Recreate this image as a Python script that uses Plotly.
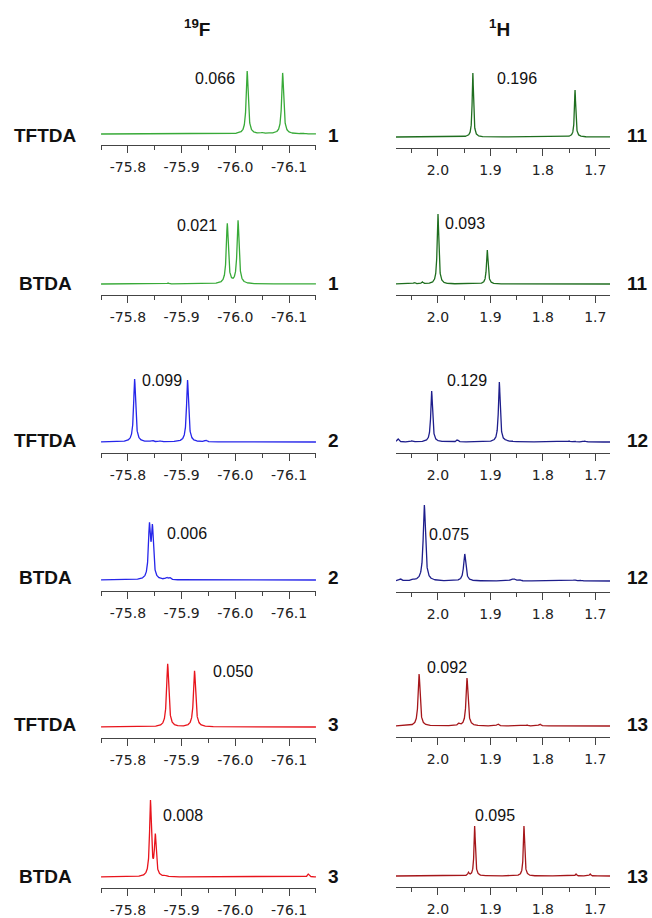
import numpy as np
import plotly.graph_objects as go

W, H = 652, 918

# ---------------- data ----------------
row_labels = ["TFTDA", "BTDA", "TFTDA", "BTDA", "TFTDA", "BTDA"]
compound_F = ["1", "1", "2", "2", "3", "3"]
compound_H = ["11", "11", "12", "12", "13", "13"]
ratio_F = ["0.066", "0.021", "0.099", "0.006", "0.050", "0.008"]
ratio_H = ["0.196", "0.093", "0.129", "0.075", "0.092", "0.095"]

F_ticks = [-75.8, -75.9, -76.0, -76.1]
F_ticktext = ["-75.8", "-75.9", "-76.0", "-76.1"]
F_minor = [-75.75, -75.85, -75.95, -76.05, -76.15]
H_ticks = [2.0, 1.9, 1.8, 1.7]
H_ticktext = ["2.0", "1.9", "1.8", "1.7"]
H_minor = [2.05, 1.95, 1.85, 1.75]

# 19F peaks (chemical shift, ppm) and heights (a.u.)
F_shift = [
    [-76.022, -76.088, -76.050, -76.060, -76.125],
    [-75.985, -76.005, -75.875],
    [-75.8125, -75.911, -75.845, -75.860, -75.945],
    [-75.840, -75.8456, -75.872, -75.878],
    [-75.874, -75.924],
    [-75.842, -75.851, -75.870, -76.136],
]
F_height = [
    [63, 61, 1.0, 1.0, 1.0],
    [60, 63, 1.0],
    [63, 62, 1.5, 1.0, 1.5],
    [51, 49, 2.0, 2.0],
    [63, 56],
    [75, 40, 1.0, 3.0],
]
F_hwhm = [0.0022, 0.0022, 0.0022, 0.0022, 0.0024, 0.0020]

# 1H peaks
H_shift = [
    [1.9335, 1.7386],
    [2.000, 1.906, 2.045, 2.030],
    [2.012, 1.883, 2.076, 2.050, 1.963, 1.870, 1.860, 1.750, 1.740, 1.720],
    [2.026, 1.949, 2.072, 2.047, 1.860, 1.855, 1.845, 1.740, 1.730],
    [2.036, 1.9446, 1.960, 1.886, 1.806, 1.830],
    [1.930, 1.836, 1.942, 1.737, 1.710],
]
H_height = [
    [64, 47],
    [70, 34, 1.5, 2.0],
    [51, 60, 3.0, 1.0, 2.0, 1.0, 1.0, 1.0, 1.0, 1.0],
    [76, 27, 2.0, 1.0, 1.5, 2.0, 1.5, 1.0, 1.0],
    [52, 48, 2.0, 2.0, 2.0, 1.0],
    [50, 50, 3.0, 2.0, 2.0],
]
H_hwhm = [0.0015, 0.0018, 0.0020, 0.0025, 0.0022, 0.0015]

# ---------------- styling / layout ----------------
F_colors = ["#38aa38", "#38aa38", "#2626ea", "#2626ea", "#e8141c", "#e8141c"]
H_colors = ["#1f6e1f", "#1f6e1f", "#1e1e8c", "#1e1e8c", "#a5161a", "#a5161a"]

F_range = [-75.7499, -76.1501]
H_range = [2.08, 1.672]
F_dom_px = (101, 316)
H_dom_px = (396, 610)
F_axis_px = [145, 295, 453, 591, 738, 888]
H_axis_px = [148, 295, 453, 592, 737, 887]
base_off = 11      # px between axis line and spectrum baseline
panel_h = 100      # px height of each panel

F_grid = np.linspace(-75.75, -76.15, 2401)
H_grid = np.linspace(2.08, 1.672, 2401)


def spectrum(grid, shifts, heights, hw):
    y = np.zeros_like(grid)
    for s, h in zip(shifts, heights):
        y += h / (1.0 + ((grid - s) / hw) ** 2)
    return y


def py(p):
    return 1 - p / H


def px(p):
    return p / W


fig = go.Figure()
layout = dict(
    width=W, height=H, margin=dict(l=0, r=0, t=0, b=0),
    paper_bgcolor="white", plot_bgcolor="rgba(0,0,0,0)", showlegend=False,
)
annotations = []

axis_common = dict(
    showgrid=False, zeroline=False, showline=True, linecolor="#444", linewidth=1,
    ticks="outside", ticklen=7, tickwidth=1, tickcolor="#444",
    tickfont=dict(family="DejaVu Sans", size=14, color="#222"),
    tickmode="array", fixedrange=True, ticklabelstandoff=2,
)

n = 0
for r in range(6):
    for c in range(2):
        n += 1
        xa = "x" if n == 1 else f"x{n}"
        ya = "y" if n == 1 else f"y{n}"
        if c == 0:
            grid, sh, hh, hw = F_grid, F_shift[r], F_height[r], F_hwhm[r]
            col, dom, rng, ax = F_colors[r], F_dom_px, F_range, F_axis_px[r]
            tv, tt, mv = F_ticks, F_ticktext, F_minor
        else:
            grid, sh, hh, hw = H_grid, H_shift[r], H_height[r], H_hwhm[r]
            col, dom, rng, ax = H_colors[r], H_dom_px, H_range, H_axis_px[r]
            tv, tt, mv = H_ticks, H_ticktext, H_minor
        y = spectrum(grid, sh, hh, hw)
        fig.add_trace(go.Scatter(x=grid, y=y, mode="lines",
                                 line=dict(color=col, width=1.3),
                                 xaxis=xa, yaxis=ya, hoverinfo="skip"))
        layout["xaxis" if n == 1 else f"xaxis{n}"] = dict(
            axis_common, domain=[px(dom[0]), px(dom[1])], anchor=ya,
            range=rng, tickvals=tv, ticktext=tt,
            minor=dict(tickmode="array", tickvals=mv, ticks="outside",
                       ticklen=4, tickcolor="#444", tickwidth=1),
        )
        layout["yaxis" if n == 1 else f"yaxis{n}"] = dict(
            domain=[py(ax), py(ax - panel_h)], anchor=xa,
            range=[-base_off, panel_h - base_off], visible=False, fixedrange=True,
        )


def label(text, x, y, size, bold=False):
    annotations.append(dict(
        text=f"<b>{text}</b>" if bold else text, x=px(x), y=py(y),
        xref="paper", yref="paper", showarrow=False,
        xanchor="center", yanchor="middle",
        font=dict(family="Liberation Sans", size=size, color="#111")))


# headers
label("<sup>19</sup>F", 197, 28, 19, bold=True)
label("<sup>1</sup>H", 499, 28, 19, bold=True)

F_ratio_pos = [(215, 79), (197, 225), (162, 380), (187, 533), (233, 671), (183, 815)]
H_ratio_pos = [(517, 79), (465, 224), (467, 380), (449, 534), (447, 667), (495, 815)]
label_y = [135, 283, 440, 577, 724, 876]

for r in range(6):
    label(row_labels[r], 45, label_y[r], 19, bold=True)
    label(compound_F[r], 333, label_y[r], 19, bold=True)
    label(compound_H[r], 637, label_y[r], 19, bold=True)
    label(ratio_F[r], F_ratio_pos[r][0], F_ratio_pos[r][1], 16)
    label(ratio_H[r], H_ratio_pos[r][0], H_ratio_pos[r][1], 16)

layout["annotations"] = annotations
fig.update_layout(**layout)
fig.write_html(
    "out.html",
    config={"displayModeBar": False, "staticPlot": True},
    post_script="document.body.style.margin='0';document.body.style.overflow='hidden';",
)
